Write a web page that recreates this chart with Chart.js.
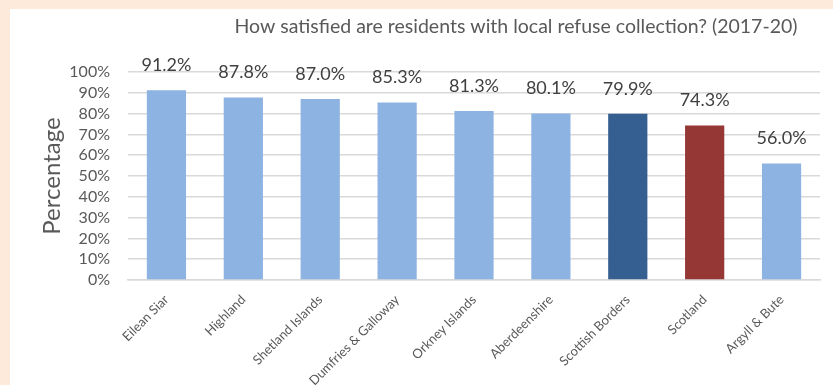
<!DOCTYPE html>
<html>
<head>
<meta charset="utf-8">
<script src="https://cdn.jsdelivr.net/npm/chart.js@4/dist/chart.umd.min.js"></script>
<style>
  html, body { margin: 0; padding: 0; }
  body { width: 833px; height: 385px; background: #FDEADA; position: relative; overflow: hidden; }
  #panel { position: absolute; left: 10px; top: 9px; width: 823px; height: 376px; background: #fff; }
</style>
</head>
<body>
<div id="panel"><canvas id="chart" width="823" height="376"></canvas></div>
<script>
// chart values
const areas = ['Eilean Siar', 'Highland', 'Shetland Islands', 'Dumfries & Galloway', 'Orkney Islands',
               'Aberdeenshire', 'Scottish Borders', 'Scotland', 'Argyll & Bute'];
const satisfied = [91.2, 87.8, 87.0, 85.3, 81.3, 80.1, 79.9, 74.3, 56.0];
const barColors = ['#8DB3E2', '#8DB3E2', '#8DB3E2', '#8DB3E2', '#8DB3E2',
                   '#8DB3E2', '#355F91', '#953735', '#8DB3E2'];
const yTicks = [0, 10, 20, 30, 40, 50, 60, 70, 80, 90, 100];
const chartTitle = 'How satisfied are residents with local refuse collection? (2017-20)';

const FONT = 'Lato, "Open Sans", sans-serif';

// title sits top right, drawn by hand
const titlePlugin = {
    id: 'titleText',
    afterDraw(chart) {
        const ctx = chart.ctx;
        ctx.save();
        ctx.font = '19.5px ' + FONT;
        ctx.fillStyle = '#595959';
        ctx.textAlign = 'center';
        ctx.textBaseline = 'middle';
        ctx.fillText(chartTitle, 506, 18);
        ctx.restore();
    }
};

// value labels above each bar
const valueLabels = {
    id: 'valueLabels',
    afterDatasetsDraw(chart) {
        const ctx = chart.ctx;
        const meta = chart.getDatasetMeta(0);
        ctx.save();
        ctx.font = '18px ' + FONT;
        ctx.fillStyle = '#404040';
        ctx.textAlign = 'center';
        ctx.textBaseline = 'middle';
        meta.data.forEach((bar, i) => {
            ctx.fillText(satisfied[i].toFixed(1) + '%', bar.x, bar.y - 25);
        });
        ctx.restore();
    }
};

new Chart(document.getElementById('chart'), {
    type: 'bar',
    data: {
        labels: areas,
        datasets: [{
            data: satisfied,
            backgroundColor: barColors,
            borderWidth: 0,
            barPercentage: 0.51,
            categoryPercentage: 1.0
        }]
    },
    options: {
        responsive: false,
        animation: false,
        layout: { padding: { left: 0, right: 13, top: 63, bottom: 0 } },
        plugins: {
            legend: { display: false },
            tooltip: { enabled: false }
        },
        scales: {
            x: {
                grid: { display: false, drawTicks: false },
                border: { color: '#D9D9D9', width: 1.5 },
                ticks: {
                    color: '#595959',
                    font: { family: FONT, size: 13 },
                    minRotation: 45,
                    maxRotation: 45,
                    autoSkip: false,
                    padding: 12
                },
                afterFit(scale) { scale.height = 105; }
            },
            y: {
                min: 0,
                max: 100,
                afterBuildTicks(scale) { scale.ticks = yTicks.map(v => ({ value: v })); },
                grid: { color: '#D9D9D9', lineWidth: 1.5, drawTicks: false },
                border: { display: false },
                ticks: {
                    color: '#595959',
                    font: { family: FONT, size: 16 },
                    padding: 18,
                    autoSkip: false,
                    callback: v => v + '%'
                },
                title: {
                    display: true,
                    text: 'Percentage',
                    color: '#595959',
                    font: { family: FONT, size: 24 },
                    padding: { top: 28, bottom: 0 }
                },
                afterFit(scale) { scale.width = 118; }
            }
        }
    },
    plugins: [titlePlugin, valueLabels]
});
</script>
</body>
</html>
